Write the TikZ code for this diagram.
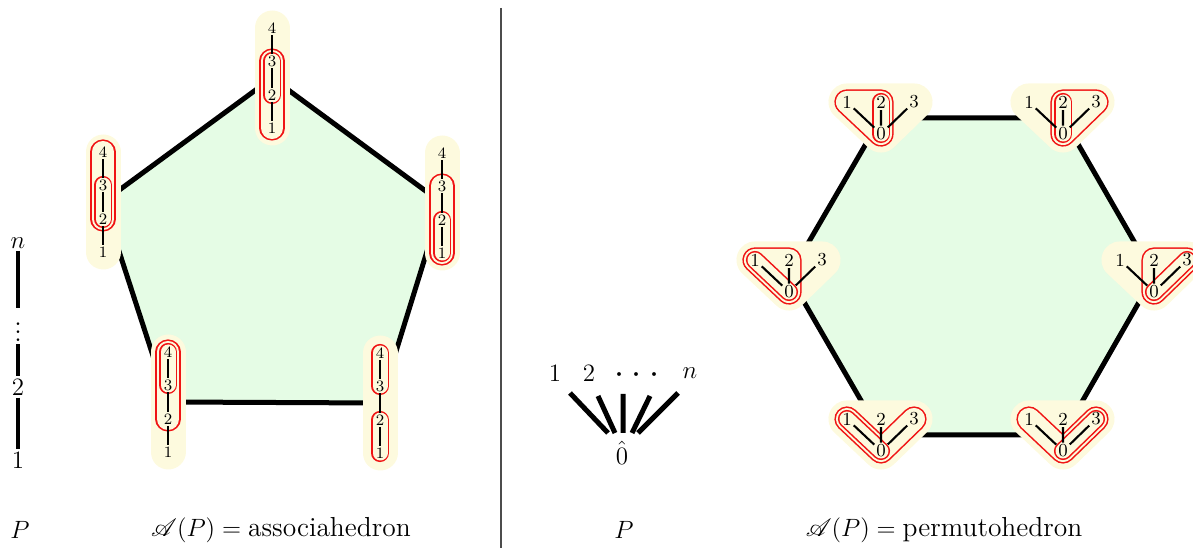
\documentclass[tikz,border=0pt]{standalone}
\usepackage{amsmath,amssymb}
\usepackage{mathrsfs}
\usetikzlibrary{calc}
\pgfdeclarelayer{lgreen}\pgfdeclarelayer{lylw}\pgfdeclarelayer{lout}\pgfdeclarelayer{lin}
\pgfsetlayers{lgreen,lylw,lout,lin,main}
\definecolor{ylw}{RGB}{253,250,222}
\definecolor{grn}{RGB}{229,252,229}
\definecolor{tred}{RGB}{240,20,20}
\tikzset{
 sml/.style={font=\fontsize{7.6}{8}\selectfont, inner sep=0.6pt},
 hsml/.style={font=\fontsize{8.8}{9}\selectfont, inner sep=0.8pt},
 chl/.style={line width=0.8pt},
 hpl/.style={line width=1pt},
 edge/.style={line width=2.4pt},
 cyl/.style={draw=ylw, line width=16.8pt, line cap=round},
 hyl/.style={draw=ylw, fill=ylw, line width=17.8pt, line join=round},
 ored/.style={draw=tred, line width=12.1pt, line cap=round, line join=round},
 oylw/.style={draw=ylw, line width=10.6pt, line cap=round, line join=round},
 ired/.style={draw=tred, line width=8.7pt, line cap=round, line join=round},
 iylw/.style={draw=ylw, line width=7.2pt, line cap=round, line join=round},
 big/.style={font=\fontsize{13.2}{15}\selectfont, inner sep=1pt},
 thk/.style={line width=1.9pt},
 fan/.style={line width=2.4pt},
}
\newcommand\otube[1]{\begin{pgfonlayer}{lout}\draw[ored] #1; \draw[oylw] #1;\end{pgfonlayer}}
\newcommand\otubef[1]{\begin{pgfonlayer}{lout}\filldraw[ored,fill=tred] #1; \filldraw[oylw,fill=ylw] #1;\end{pgfonlayer}}
\newcommand\itube[1]{\begin{pgfonlayer}{lin}\draw[ired] #1; \draw[iylw] #1;\end{pgfonlayer}}
\newcommand\pchain[3]{%
 \coordinate (#1) at (#2,#3);
 \begin{scope}[shift={(#2,#3)}]
  \node[sml] (#1-4) at (0,-50) {4};
  \node[sml] (#1-3) at (0,-17) {3};
  \node[sml] (#1-2) at (0,17) {2};
  \node[sml] (#1-1) at (0,50) {1};
 \end{scope}
 \draw[chl] (#1-4)--(#1-3)--(#1-2)--(#1-1);
 \begin{pgfonlayer}{lylw}\draw[cyl] (#1-4.center)--(#1-1.center);\end{pgfonlayer}
}
\newcommand\hpos[3]{%
 \coordinate (#1) at (#2,#3);
 \begin{scope}[shift={(#2,#3)}]
  \node[hsml] (#1-1) at (-34,-16) {1};
  \node[hsml] (#1-2) at (0,-16) {2};
  \node[hsml] (#1-3) at (33,-16) {3};
  \node[hsml] (#1-0) at (0,16) {0};
 \end{scope}
 \draw[hpl] (#1-1)--(#1-0) (#1-2)--(#1-0) (#1-3)--(#1-0);
 \begin{pgfonlayer}{lylw}\filldraw[hyl] (#1-1.center)--(#1-3.center)--(#1-0.center)--cycle;\end{pgfonlayer}
}
\begin{document}
\begin{tikzpicture}[x={(0.48pt,0)},y={(0,-0.48pt)}]
\useasboundingbox (0,0) rectangle (1193,548);
% pentagon chains
\pchain{pT}{272}{78}
\pchain{pL}{103}{202}
\pchain{pR}{442}{203}
\pchain{pBL}{168}{402}
\pchain{pBR}{380}{403}
\begin{pgfonlayer}{lgreen}
 \fill[grn] (pT)--(pR)--(pBR)--(pBL)--(pL)--cycle;
 \draw[edge] (pT)--(pR)--(pBR)--(pBL)--(pL)--cycle;
\end{pgfonlayer}
\itube{(pT-3.center)--(pT-2.center)}
\otube{(pT-3.center)--(pT-1.center)}
\itube{(pL-3.center)--(pL-2.center)}
\otube{(pL-4.center)--(pL-2.center)}
\itube{(pR-2.center)--(pR-1.center)}
\otube{(pR-3.center)--(pR-1.center)}
\itube{(pBL-4.center)--(pBL-3.center)}
\otube{(pBL-4.center)--(pBL-2.center)}
\itube{(pBR-4.center)--(pBR-3.center)}
\itube{(pBR-2.center)--(pBR-1.center)}
% hexagon posets
\hpos{hTL}{881}{118}
\hpos{hTR}{1063}{118}
\hpos{hR}{1154}{276}
\hpos{hBR}{1063}{435}
\hpos{hBL}{881}{435}
\hpos{hL}{789}{276}
\begin{pgfonlayer}{lgreen}
 \fill[grn] (hTL)--(hTR)--(hR)--(hBR)--(hBL)--(hL)--cycle;
 \draw[edge] (hTL)--(hTR)--(hR)--(hBR)--(hBL)--(hL)--cycle;
\end{pgfonlayer}
\itube{(hTL-2.center)--(hTL-0.center)}
\otubef{(hTL-1.center)--(hTL-2.center)--(hTL-0.center)--cycle}
\itube{(hTR-2.center)--(hTR-0.center)}
\otubef{(hTR-2.center)--(hTR-3.center)--(hTR-0.center)--cycle}
\itube{(hL-1.center)--(hL-0.center)}
\otubef{(hL-1.center)--(hL-2.center)--(hL-0.center)--cycle}
\itube{(hR-3.center)--(hR-0.center)}
\otubef{(hR-2.center)--(hR-3.center)--(hR-0.center)--cycle}
\itube{(hBL-1.center)--(hBL-0.center)}
\otube{(hBL-1.center)--(hBL-0.center)--(hBL-3.center)}
\itube{(hBR-3.center)--(hBR-0.center)}
\otube{(hBR-1.center)--(hBR-0.center)--(hBR-3.center)}
% left chain P
\node[big] (ln) at (18,243) {$n$};
\node[big] (ld) at (18,326) {$\vdots$};
\node[big] (l2) at (18,387) {$2$};
\node[big] (l1) at (18,460) {$1$};
\draw[thk] (ln)--(ld);
\draw[thk] (ld)--(l2);
\draw[thk] (l2)--(l1);
% middle poset P
\node[big] (m1) at (555,373) {$1$};
\node[big] (m2) at (589,373) {$2$};
\node[big] (md) at (637,376) {\fontsize{16}{18}\selectfont$\cdot$\hspace{3.6pt}$\cdot$\hspace{3.6pt}$\cdot$};
\node[big] (mn) at (690,373) {$n$};
\node[big] (mz) at (622,453) {$\hat{0}$};
\coordinate (f1a) at (570,393); \coordinate (f1b) at (608,433);
\coordinate (f2a) at (598,396); \coordinate (f2b) at (615,433);
\coordinate (f3a) at (623,394); \coordinate (f3b) at (623,433);
\coordinate (f4a) at (650,396); \coordinate (f4b) at (632,433);
\coordinate (f5a) at (678,393); \coordinate (f5b) at (638,433);
\draw[fan] (f1a)--(f1b) (f2a)--(f2b) (f3a)--(f3b) (f4a)--(f4b) (f5a)--(f5b);
% captions
\node[big] (cP1) at (20,530) {$P$};
\node[big] (cA1) at (281,530) {$\mathscr{A}(P) = \text{associahedron}$};
\node[big] (cP2) at (624,530) {$P$};
\node[big] (cA2) at (944,530) {$\mathscr{A}(P) = \text{permutohedron}$};
% divider
\coordinate (dv1) at (501,8); \coordinate (dv2) at (501,548);
\draw[black!70, line width=0.5pt] (dv1)--(dv2);
\end{tikzpicture}
\end{document}
